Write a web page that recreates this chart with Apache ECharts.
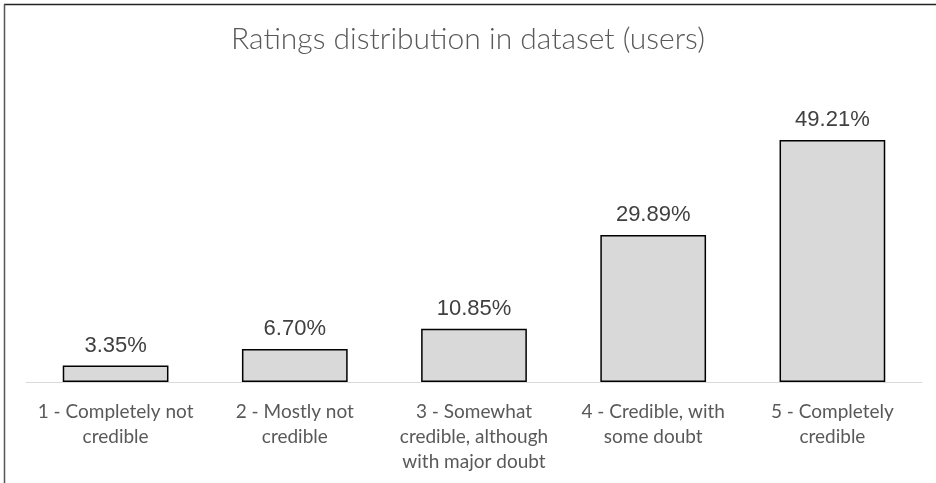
<!DOCTYPE html>
<html>
<head>
<meta charset="utf-8">
<script src="https://cdn.jsdelivr.net/npm/echarts@6/dist/echarts.min.js"></script>
<style>
html,body{margin:0;padding:0;background:#fff;}
#chart{width:936px;height:483px;}
</style>
</head>
<body>
<div id="chart"></div>
<script>
const titleText = 'Ratings distribution in dataset (users)';
const categories = [
  '1 - Completely not\ncredible',
  '2 - Mostly not\ncredible',
  '3 - Somewhat\ncredible, although\nwith major doubt',
  '4 - Credible, with\nsome doubt',
  '5 - Completely\ncredible'
];
const values = [3.35, 6.70, 10.85, 29.89, 49.21];

const chart = echarts.init(document.getElementById('chart'), null, {renderer: 'canvas'});
chart.setOption({
  backgroundColor: '#ffffff',
  animation: false,
  title: {
    text: titleText,
    left: 'center',
    top: 19,
    textStyle: {fontFamily: 'Lato', fontWeight: 300, fontSize: 30, color: '#595959'}
  },
  graphic: [
    {type: 'line', shape: {x1: 4, y1: 4.5, x2: 936, y2: 4.5}, style: {stroke: '#222', lineWidth: 1.5}},
    {type: 'line', shape: {x1: 4.5, y1: 4, x2: 4.5, y2: 483}, style: {stroke: '#555', lineWidth: 1.5}}
  ],
  grid: {left: 26, right: 14, top: 87, bottom: 101, containLabel: false},
  xAxis: {
    type: 'category',
    data: categories,
    axisLine: {show: true, lineStyle: {color: '#d9d9d9', width: 1}},
    axisTick: {show: false},
    axisLabel: {
      interval: 0,
      margin: 17,
      fontFamily: 'Lato',
      fontSize: 19,
      lineHeight: 25,
      color: '#595959'
    }
  },
  yAxis: {
    type: 'value',
    min: 0,
    max: 60,
    show: false,
    splitLine: {show: false}
  },
  series: [{
    type: 'bar',
    data: values,
    barWidth: '59%',
    itemStyle: {color: '#d9d9d9', borderColor: '#000000', borderWidth: 1.5},
    label: {
      show: true,
      position: 'top',
      distance: 9,
      fontFamily: 'Liberation Sans',
      fontSize: 22,
      color: '#404040',
      formatter: p => p.value.toFixed(2) + '%'
    }
  }]
});
</script>
</body>
</html>
